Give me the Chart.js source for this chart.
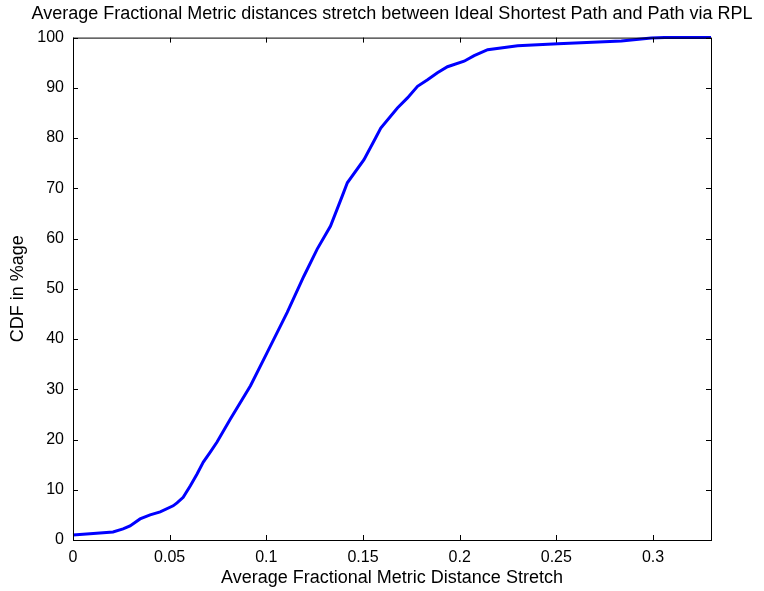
<!DOCTYPE html>
<html>
<head>
<meta charset="utf-8">
<script src="https://cdn.jsdelivr.net/npm/chart.js@4"></script>
<style>
  html, body { margin: 0; padding: 0; background: #fff; }
  #wrap { width: 764px; height: 591px; }
</style>
</head>
<body>
<div id="wrap"><canvas id="cdfCanvas" width="764" height="591"></canvas></div>
<script>
// average fractional metric distance stretch (x) and cumulative share in % (y)
const stretch = [0, 0.0105, 0.0207, 0.0259, 0.0295, 0.0347, 0.0399, 0.0451, 0.0518, 0.0538,
  0.057, 0.0607, 0.0641, 0.0674, 0.071, 0.0745, 0.0814, 0.0918, 0.1004, 0.1108,
  0.1194, 0.1263, 0.1332, 0.1393, 0.1419, 0.1505, 0.1565, 0.1592, 0.1678, 0.173, 0.1782,
  0.1834, 0.1885, 0.1937, 0.2023, 0.2075, 0.2145, 0.23, 0.2508, 0.2836, 0.2991, 0.3059, 0.33];
const cdf = [1.0, 1.3, 1.6, 2.2, 2.8, 4.2, 5.0, 5.6, 6.8, 7.4,
  8.5, 10.8, 13.1, 15.5, 17.5, 19.5, 24.1, 30.7, 37.3, 45.3,
  52.5, 57.9, 62.5, 68.5, 71.1, 75.7, 80.0, 82.0, 86.0, 88.0, 90.3,
  91.6, 93.0, 94.2, 95.3, 96.4, 97.6, 98.4, 98.8, 99.3, 99.9, 100, 100];

const xTicks = [0, 0.05, 0.1, 0.15, 0.2, 0.25, 0.3];
const yTicks = [0, 10, 20, 30, 40, 50, 60, 70, 80, 90, 100];

const FONT = "'Liberation Sans', Arial, Helvetica, sans-serif";

// matlab-like box with inward tick marks on all four sides
const boxPlugin = {
  id: "box",
  afterDraw(chart) {
    const { ctx, chartArea: a, scales } = chart;
    const len = 5;
    ctx.save();
    ctx.strokeStyle = "#000";
    ctx.lineWidth = 1;
    ctx.strokeRect(a.left + 0.5, a.top + 0.5, a.right - a.left, a.bottom - a.top);
    ctx.beginPath();
    xTicks.forEach(v => {
      const px = Math.round(scales.x.getPixelForValue(v)) + 0.5;
      ctx.moveTo(px, a.bottom); ctx.lineTo(px, a.bottom - len);
      ctx.moveTo(px, a.top); ctx.lineTo(px, a.top + len);
    });
    yTicks.forEach(v => {
      const py = Math.round(scales.y.getPixelForValue(v)) + 0.5;
      ctx.moveTo(a.left, py); ctx.lineTo(a.left + len, py);
      ctx.moveTo(a.right, py); ctx.lineTo(a.right - len, py);
    });
    ctx.stroke();
    ctx.restore();
  }
};

const data = {
  datasets: [
    {
      label: "CDF",
      data: stretch.map((v, i) => ({ x: v, y: cdf[i] })),
      borderColor: "rgb(0, 0, 255)",
      backgroundColor: "rgb(0, 0, 255)",
      borderWidth: 3,
      pointRadius: 0,
      tension: 0,
      clip: false,
    },
  ],
};

const config = {
  type: "line",
  data: data,
  plugins: [boxPlugin],
  options: {
    responsive: false,
    animation: false,
    layout: { padding: { left: 20, right: 0, top: 0, bottom: 0 } },
    plugins: {
      legend: { display: false },
      tooltip: { enabled: false },
      title: {
        display: true,
        text: "Average Fractional Metric distances stretch between Ideal Shortest Path and Path via RPL",
        color: "#000",
        font: { family: FONT, size: 18, weight: "normal" },
        padding: { top: 3, bottom: 13 },
      },
    },
    scales: {
      x: {
        type: "linear",
        min: 0,
        max: 0.33,
        afterBuildTicks(scale) { scale.ticks = xTicks.map(v => ({ value: v })); },
        afterFit(scale) { scale.height = 51; },
        grid: { display: false, drawTicks: false },
        border: { display: false },
        ticks: {
          color: "#000",
          padding: 8,
          maxRotation: 0,
          font: { family: FONT, size: 16 },
          callback: v => String(+v.toFixed(2)),
        },
        title: {
          display: true,
          text: "Average Fractional Metric Distance Stretch",
          color: "#000",
          font: { family: FONT, size: 18 },
          padding: { top: 0, bottom: 2 },
        },
      },
      y: {
        min: 0,
        max: 100,
        afterBuildTicks(scale) { scale.ticks = yTicks.map(v => ({ value: v })); },
        afterFit(scale) { scale.width = 53; },
        grid: { display: false, drawTicks: false },
        border: { display: false },
        ticks: {
          color: "#000",
          padding: 9,
          font: { family: FONT, size: 16 },
        },
        title: {
          display: true,
          text: "CDF in %age",
          color: "#000",
          font: { family: FONT, size: 18 },
          padding: { top: -13, bottom: 0 },
        },
      },
      // empty right-hand axis, only reserves the margin right of the box
      yRight: {
        position: "right",
        min: 0,
        max: 100,
        afterFit(scale) { scale.width = 53; },
        grid: { display: false, drawTicks: false },
        border: { display: false },
        ticks: { display: false },
      },
    },
  },
};

const canvas = document.getElementById("cdfCanvas");
if (canvas) {
  const ctx = canvas.getContext("2d");
  new Chart(ctx, config);
} else {
  console.error("canvas not found");
}
</script>
</body>
</html>
